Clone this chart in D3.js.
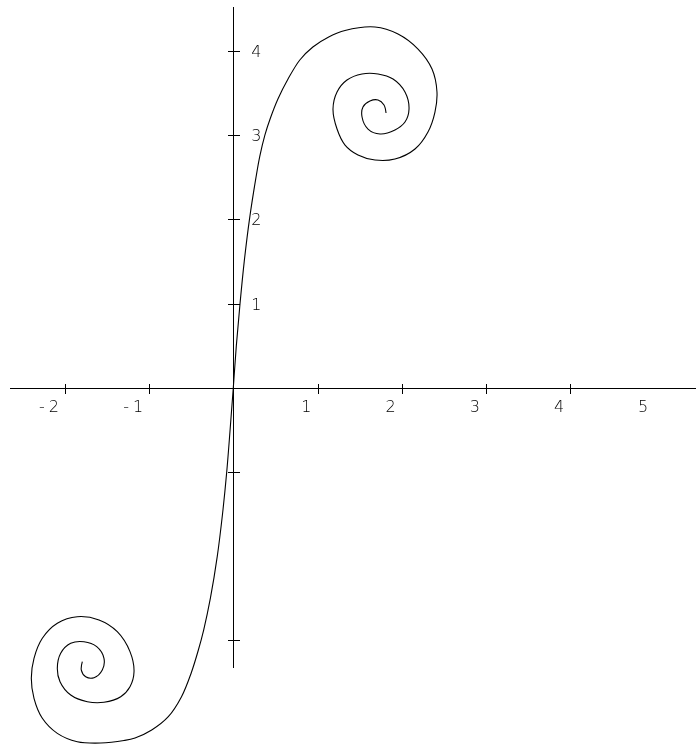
<!DOCTYPE html>
<html>
<head>
<meta charset="utf-8">
<script src="https://cdn.jsdelivr.net/npm/d3@7"></script>
<style>
  html, body { margin: 0; padding: 0; background: #fff; }
  svg { display: block; will-change: transform; }
  .lbl { font-family: "DejaVu Sans", sans-serif; font-weight: 200; font-size: 16px; fill: #000; }
</style>
</head>
<body>
<svg id="chart" width="696" height="748"></svg>
<script>
// Double spiral through the origin, points listed from the lower coil's inner end
// out along the coil, through the origin, and round into the upper coil.
const curveX = [
  -1.793, -1.805, -1.753, -1.654, -1.556, -1.536, -1.622, -1.773, -1.931, -2.050,
  -2.090, -2.058, -1.931, -1.734, -1.536, -1.337, -1.227, -1.179, -1.227, -1.378,
  -1.595, -1.853, -2.090, -2.268, -2.367, -2.399, -2.367, -2.268, -2.090, -1.853,
  -1.575, -1.298, -1.167, -0.969, -0.772, -0.615, -0.500, -0.415, -0.352, -0.272,
  -0.190, -0.128, -0.078, -0.038,
  0,
  0.036, 0.080, 0.130, 0.192, 0.270, 0.315, 0.375, 0.440, 0.530, 0.650,
  0.790, 0.945, 1.133, 1.327, 1.683, 1.956, 2.194, 2.360, 2.419, 2.395,
  2.312, 2.158, 1.920, 1.683, 1.481, 1.327, 1.232, 1.184, 1.232, 1.350,
  1.529, 1.719, 1.897, 2.039, 2.087, 2.039, 1.920, 1.742, 1.600, 1.529,
  1.540, 1.623, 1.719, 1.790, 1.814
];
const curveY = [
  -3.254, -3.353, -3.432, -3.444, -3.353, -3.214, -3.076, -3.017, -3.036, -3.154,
  -3.333, -3.492, -3.650, -3.729, -3.736, -3.670, -3.551, -3.373, -3.135, -2.898,
  -2.759, -2.720, -2.798, -2.976, -3.214, -3.451, -3.689, -3.926, -4.105, -4.204,
  -4.220, -4.190, -4.160, -4.065, -3.907, -3.670, -3.388, -3.115, -2.878, -2.500,
  -2.000, -1.500, -1.000, -0.500,
  0,
  0.500, 1.000, 1.500, 2.000, 2.500, 2.750, 3.000, 3.200, 3.429, 3.666,
  3.892, 4.046, 4.165, 4.242, 4.284, 4.201, 4.022, 3.785, 3.512, 3.274,
  3.037, 2.835, 2.716, 2.704, 2.764, 2.882, 3.072, 3.310, 3.512, 3.654,
  3.726, 3.726, 3.666, 3.512, 3.310, 3.155, 3.061, 3.013, 3.072, 3.215,
  3.334, 3.405, 3.417, 3.357, 3.262
];

// Axis ticks and labels
const xTicks = [-2, -1, 1, 2, 3, 4];
const xLabels = [-2, -1, 1, 2, 3, 4, 5];
const yTicks = [-3, -1, 1, 2, 3, 4];
const yLabels = [1, 2, 3, 4];

const svg = d3.select("#chart");

const x = d3.scaleLinear().domain([-2, 4]).range([64.9, 570.1]);
const y = d3.scaleLinear().domain([-3, 4]).range([640.3, 50.9]);

const x0 = x(0), y0 = y(0);

// axis lines
svg.append("line")
  .attr("x1", 10).attr("x2", 696)
  .attr("y1", Math.round(y0) + 0.5).attr("y2", Math.round(y0) + 0.5)
  .attr("stroke", "#000").attr("stroke-width", 1).attr("shape-rendering", "crispEdges");
svg.append("line")
  .attr("x1", Math.round(x0) + 0.5).attr("x2", Math.round(x0) + 0.5)
  .attr("y1", 7).attr("y2", 668)
  .attr("stroke", "#000").attr("stroke-width", 1).attr("shape-rendering", "crispEdges");

// x ticks, crossing the axis
const xAxis = d3.axisBottom(x).tickValues(xTicks).tickSize(5).tickFormat("");
const gx = svg.append("g").attr("transform", `translate(0.5,${Math.round(y0) + 0.5})`).call(xAxis);
gx.select(".domain").remove();
gx.selectAll(".tick").attr("transform", d => `translate(${Math.round(x(d))},0)`);
gx.selectAll(".tick line").attr("y1", -5).attr("y2", 5)
  .attr("stroke", "#000").attr("shape-rendering", "crispEdges");

// y ticks, crossing the axis
const yAxis = d3.axisLeft(y).tickValues(yTicks).tickSize(6).tickFormat("");
const gy = svg.append("g").attr("transform", `translate(${Math.round(x0) + 0.5},0.5)`).call(yAxis);
gy.select(".domain").remove();
gy.selectAll(".tick").attr("transform", d => `translate(0,${Math.round(y(d))})`);
gy.selectAll(".tick line").attr("x1", -6).attr("x2", 6)
  .attr("stroke", "#000").attr("shape-rendering", "crispEdges");

// x labels, sitting left of their tick
const xl = svg.append("g").selectAll("text").data(xLabels).join("text")
  .attr("class", "lbl")
  .attr("x", d => x(d) - 6)
  .attr("y", 412)
  .attr("text-anchor", "end");
xl.each(function(d) {
  const t = d3.select(this);
  if (d < 0) {
    t.append("tspan").text("-");
    t.append("tspan").attr("dx", 4).text(String(-d));
  } else {
    t.text(String(d));
  }
});

// y labels, right of the axis
svg.append("g").selectAll("text").data(yLabels).join("text")
  .attr("class", "lbl")
  .attr("x", x0 + 18)
  .attr("y", d => y(d) + 6)
  .attr("text-anchor", "start")
  .text(d => String(d));

// the spiral
const pts = curveX.map((v, i) => [v, curveY[i]]);
const line = d3.line()
  .x(d => x(d[0]))
  .y(d => y(d[1]))
  .curve(d3.curveCatmullRom.alpha(0.5));
svg.append("path")
  .datum(pts)
  .attr("d", line)
  .attr("fill", "none")
  .attr("stroke", "#000")
  .attr("stroke-width", 1.1);
</script>
</body>
</html>
